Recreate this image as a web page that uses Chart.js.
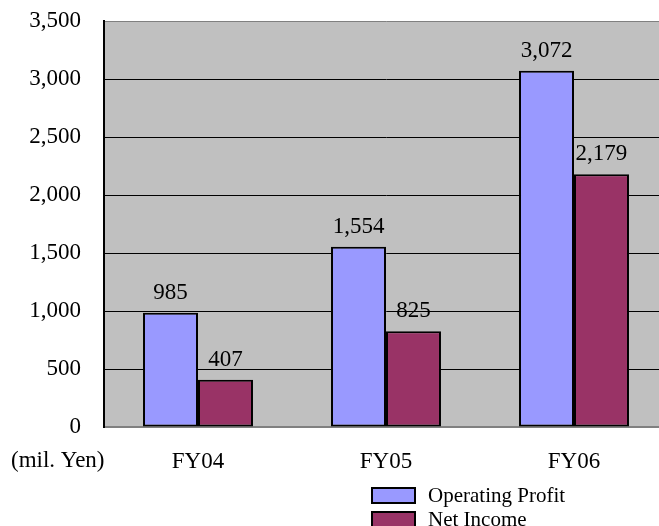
<!DOCTYPE html>
<html>
<head>
<meta charset="utf-8">
<script src="https://cdn.jsdelivr.net/npm/chart.js@4/dist/chart.umd.min.js"></script>
<style>
  html, body { margin: 0; padding: 0; overflow: hidden; background: #fff; }
  #wrap { position: relative; width: 700px; height: 526px; }
</style>
</head>
<body>
<div id="wrap"><canvas id="c"></canvas></div>
<script>
// Fiscal years and results (millions of yen)
const categories = ['FY04', 'FY05', 'FY06'];
const operatingProfit = [985, 1554, 3072];
const netIncome = [407, 825, 2179];
const seriesNames = ['Operating Profit', 'Net Income'];
const unitLabel = '(mil. Yen)';
const yMax = 3500;
const yStep = 500;

const SERIF = '"Liberation Serif", "Times New Roman", serif';
const fmt = v => v.toLocaleString('en-US');

// Grey plot background
const plotBackground = {
  id: 'plotBackground',
  beforeDraw(chart) {
    const { ctx, chartArea: a } = chart;
    ctx.save();
    ctx.fillStyle = '#c0c0c0';
    ctx.fillRect(a.left, a.top, a.right - a.left, a.bottom - a.top);
    ctx.restore();
  }
};

// Value printed above each bar
const valueLabels = {
  id: 'valueLabels',
  afterDatasetsDraw(chart) {
    const { ctx } = chart;
    ctx.save();
    ctx.font = '23px ' + SERIF;
    ctx.fillStyle = '#000';
    ctx.textAlign = 'center';
    ctx.textBaseline = 'alphabetic';
    chart.data.datasets.forEach((ds, i) => {
      chart.getDatasetMeta(i).data.forEach((bar, j) => {
        ctx.fillText(fmt(ds.data[j]), bar.x, bar.y - 14);
      });
    });
    ctx.restore();
  }
};

// Unit caption and stacked legend under the axis
const captionAndLegend = {
  id: 'captionAndLegend',
  afterDraw(chart) {
    const { ctx } = chart;
    ctx.save();
    ctx.font = '23px ' + SERIF;
    ctx.fillStyle = '#000';
    ctx.textAlign = 'left';
    ctx.textBaseline = 'middle';
    ctx.fillText(unitLabel, 11, 461);

    const boxX = 372, boxW = 43, boxH = 15, rowTop = 488, rowGap = 24;
    chart.data.datasets.forEach((ds, i) => {
      const y = rowTop + i * rowGap;
      ctx.fillStyle = ds.backgroundColor;
      ctx.fillRect(boxX, y, boxW, boxH);
      ctx.strokeStyle = '#000';
      ctx.lineWidth = 2;
      ctx.strokeRect(boxX, y, boxW, boxH);
      ctx.fillStyle = '#000';
      ctx.font = '21px ' + SERIF;
      ctx.textBaseline = 'alphabetic';
      ctx.fillText(ds.label, 428, y + 14);
    });
    ctx.restore();
  }
};

new Chart(document.getElementById('c'), {
  type: 'bar',
  data: {
    labels: categories,
    datasets: [
      {
        label: seriesNames[0],
        data: operatingProfit,
        backgroundColor: '#9999ff',
        borderColor: '#000',
        borderWidth: 2,
        borderSkipped: false
      },
      {
        label: seriesNames[1],
        data: netIncome,
        backgroundColor: '#993366',
        borderColor: '#000',
        borderWidth: 2,
        borderSkipped: false
      }
    ]
  },
  options: {
    responsive: true,
    maintainAspectRatio: false,
    animation: false,
    devicePixelRatio: 1,
    layout: { padding: { top: 21, right: 32, bottom: 0, left: 0 } },
    datasets: { bar: { categoryPercentage: 0.585, barPercentage: 1 } },
    plugins: {
      legend: { display: false },
      tooltip: { enabled: false }
    },
    scales: {
      x: {
        grid: { display: true, drawOnChartArea: false, drawTicks: false },
        border: { color: '#808080', width: 2 },
        ticks: { font: { family: SERIF, size: 23 }, color: '#000', padding: 21 },
        afterFit(s) { s.height = 99; }
      },
      y: {
        min: 0,
        max: yMax,
        grid: {
          drawTicks: false,
          color: c => (c.tick && c.tick.value === yMax ? '#808080' : '#000'),
          lineWidth: 1
        },
        border: { color: '#000', width: 2 },
        ticks: {
          stepSize: yStep,
          font: { family: SERIF, size: 23 },
          color: '#000',
          padding: 23,
          callback: v => fmt(v)
        },
        afterFit(s) {
          s.width = 104;
          s.paddingTop = 0;
          s.paddingBottom = 0;
        }
      }
    }
  },
  plugins: [plotBackground, valueLabels, captionAndLegend]
});
</script>
</body>
</html>
